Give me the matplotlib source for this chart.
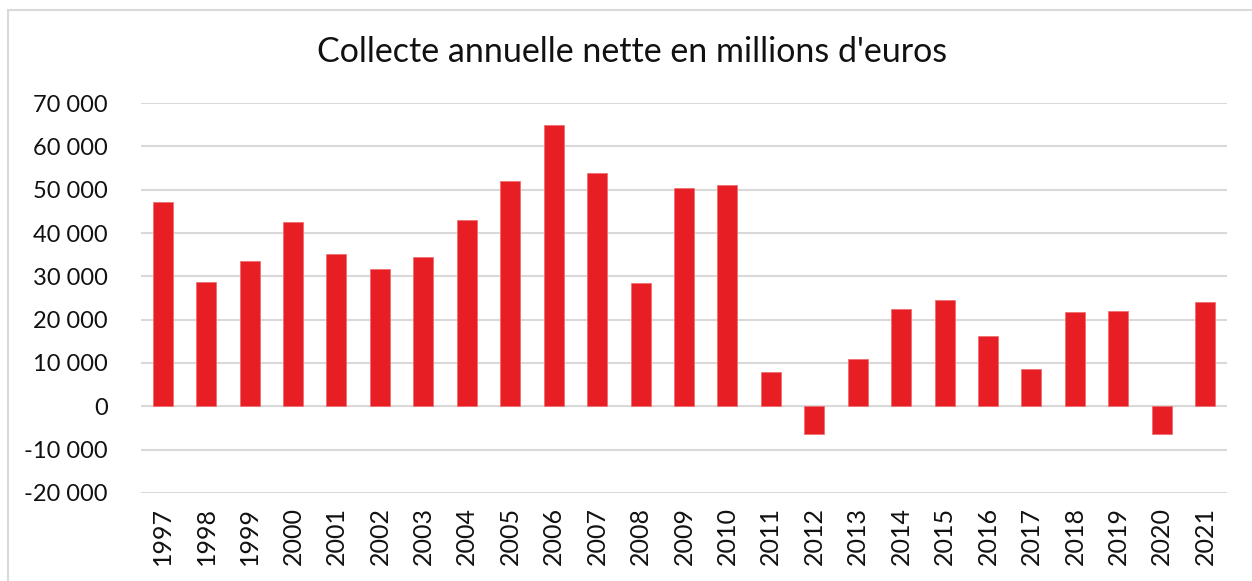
import matplotlib.pyplot as plt
from matplotlib.patches import Rectangle
from matplotlib.ticker import FuncFormatter

years = ['1997', '1998', '1999', '2000', '2001', '2002', '2003', '2004', '2005',
         '2006', '2007', '2008', '2009', '2010', '2011', '2012', '2013', '2014',
         '2015', '2016', '2017', '2018', '2019', '2020', '2021']
collecte = [47100, 28600, 33500, 42500, 35100, 31600, 34400, 43000, 52000,
            64900, 53800, 28400, 50300, 51000, 7900, -6500, 10900, 22400,
            24500, 16200, 8500, 21700, 21900, -6500, 24000]
yticks = [-20000, -10000, 0, 10000, 20000, 30000, 40000, 50000, 60000, 70000]

plt.rcParams['font.family'] = ['Lato', 'DejaVu Sans']

fig = plt.figure(figsize=(12.52, 5.81), dpi=100)
ax = fig.add_axes([0.1126, 0.1515, 0.8674, 0.6712])

x = range(len(years))
ax.bar(x, collecte, width=0.46, color='#e81e25', edgecolor='#f07070', linewidth=0.6, zorder=3)

ax.set_ylim(-20000, 70000)
ax.set_xlim(-0.5, len(years) - 0.5)
ax.set_yticks(yticks)
ax.yaxis.set_major_formatter(FuncFormatter(lambda v, p: '{:,}'.format(int(v)).replace(',', ' ')))
ax.set_xticks(list(x))
ax.set_xticklabels(years, rotation=90)
ax.tick_params(axis='both', length=0, labelsize=17, colors='#111111')
ax.tick_params(axis='x', labelsize=18)
ax.tick_params(axis='y', pad=24)
ax.tick_params(axis='x', pad=10)
ax.grid(axis='y', color='#d9d9d9', linewidth=1.5, zorder=0)
for s in ax.spines.values():
    s.set_visible(False)

fig.text(0.505, 0.91, "Collecte annuelle nette en millions d'euros", ha='center', va='center',
         fontsize=24.5, color='#111111')

fig.patches.append(Rectangle((8 / 1252, -0.01), 1.5, 1 - 10 / 581 + 0.01, transform=fig.transFigure,
                             fill=False, edgecolor='#d9d9d9', linewidth=1.5))

fig.savefig('out.png', dpi=100)
